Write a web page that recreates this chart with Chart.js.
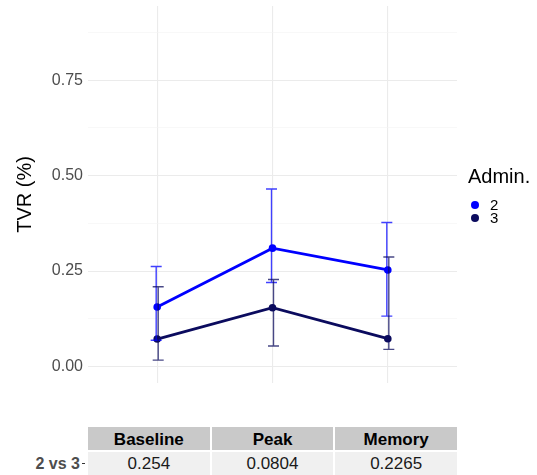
<!DOCTYPE html>
<html>
<head>
<meta charset="utf-8">
<script src="https://cdn.jsdelivr.net/npm/chart.js@4.4.0/dist/chart.umd.min.js"></script>
<style>
  body { margin: 0; background: #fff; font-family: "Liberation Sans", Arial, sans-serif; }
  #wrap { position: relative; width: 537px; height: 475px; overflow: hidden; }
  #plot { position: absolute; left: 0; top: 0; width: 537px; height: 395px; }
  #legend { position: absolute; left: 468px; top: 166px; }
  #legend .title { font-size: 20px; line-height: 20px; color: #000; margin-bottom: 13px; }
  #legend .item { position: relative; height: 12.5px; font-size: 15px; line-height: 12px; color: #000; }
  #legend .dot { position: absolute; left: 2.5px; top: 2px; width: 8px; height: 8px; border-radius: 50%; }
  #legend .lbl { position: absolute; left: 22px; top: 0; }
  #table { position: absolute; left: 88px; top: 427px; width: 369px; display: grid;
           grid-template-columns: repeat(3, 1fr); column-gap: 2px; row-gap: 1.5px; }
  #table .head { height: 23px; line-height: 25px; background: #c9c9c9; font-weight: bold;
                 font-size: 17px; text-align: center; color: #000; }
  #table .cell { height: 24px; line-height: 24px; background: #f0f0f0; font-size: 17px;
                 text-align: center; color: #1a1a1a; }
  #rowlab { position: absolute; right: 457px; top: 451.5px; height: 24px; line-height: 24px;
            font-size: 16px; font-weight: bold; color: #4d4d4d; }
  #rowtick { position: absolute; left: 82px; top: 463px; width: 3px; height: 1px; background: #333; }
</style>
</head>
<body>
<div id="wrap">
  <div id="plot"><canvas id="myChart"></canvas></div>
  <div id="legend"></div>
  <div id="rowlab"></div>
  <div id="rowtick"></div>
  <div id="table"></div>
</div>
<script>
// timepoints along the x axis
const phases = ['Baseline', 'Peak', 'Memory'];

// administration groups
const groups = ['2', '3'];

// mean TVR per phase, with lower / upper error bar ends
const mean2 = [0.156, 0.310, 0.253];
const low2 = [0.069, 0.220, 0.132];
const high2 = [0.262, 0.465, 0.377];

const mean3 = [0.072, 0.154, 0.073];
const low3 = [0.017, 0.054, 0.045];
const high3 = [0.209, 0.228, 0.287];

// y axis ticks: labelled majors and unlabelled minors
const yMajor = [0, 0.25, 0.5, 0.75];
const yTicks = [0, 0.125, 0.25, 0.375, 0.5, 0.625, 0.75, 0.875];

// comparison table under the plot
const compareLabel = '2 vs 3';
const compareValues = ['0.254', '0.0804', '0.2265'];

const colors = ['#0000ff', '#0b0b5e'];
const barColors = ['rgba(0, 0, 255, 0.75)', 'rgba(11, 11, 94, 0.75)'];

function toPoints(arr) {
    return arr.map((v, i) => ({ x: i + 1, y: v }));
}

// Error bars drawn on top of the lines
const errorBars = {
    id: 'errorBars',
    afterDatasetsDraw(chart) {
        const ctx = chart.ctx;
        const xs = chart.scales.x;
        const ys = chart.scales.y;
        chart.data.datasets.forEach(function(ds, di) {
            const nudge = di === 0 ? -1 : 1;
            ctx.save();
            ctx.strokeStyle = barColors[di];
            ctx.lineWidth = 1.4;
            ds.errLow.forEach(function(lo, i) {
                const x = xs.getPixelForValue(i + 1) + nudge;
                const yLo = ys.getPixelForValue(lo);
                const yHi = ys.getPixelForValue(ds.errHigh[i]);
                ctx.beginPath();
                ctx.moveTo(x, yLo);
                ctx.lineTo(x, yHi);
                ctx.moveTo(x - 5.5, yLo);
                ctx.lineTo(x + 5.5, yLo);
                ctx.moveTo(x - 5.5, yHi);
                ctx.lineTo(x + 5.5, yHi);
                ctx.stroke();
            });
            ctx.restore();
        });
    }
};

const ctx = document.getElementById('myChart').getContext('2d');
const myChart = new Chart(ctx, {
    type: 'line',
    data: {
        datasets: [{
            label: groups[0],
            data: toPoints(mean2),
            errLow: low2,
            errHigh: high2,
            borderColor: colors[0],
            backgroundColor: colors[0],
            borderWidth: 2.8,
            pointRadius: 3.8,
            pointBorderWidth: 0
        }, {
            label: groups[1],
            data: toPoints(mean3),
            errLow: low3,
            errHigh: high3,
            borderColor: colors[1],
            backgroundColor: colors[1],
            borderWidth: 2.8,
            pointRadius: 3.8,
            pointBorderWidth: 0
        }]
    },
    options: {
        responsive: true,
        maintainAspectRatio: false,
        animation: false,
        layout: { padding: { left: 0, right: 80, top: 6, bottom: 12 } },
        plugins: {
            legend: { display: false },
            tooltip: { enabled: false }
        },
        scales: {
            x: {
                type: 'linear',
                min: 0.4,
                max: 3.6,
                afterBuildTicks(scale) {
                    scale.ticks = phases.map((p, i) => ({ value: i + 1 }));
                },
                afterFit(scale) {
                    scale.height = 0;
                    scale.paddingLeft = 0;
                    scale.paddingRight = 0;
                },
                ticks: { display: false },
                grid: { color: '#ebebeb', lineWidth: 1.1, drawTicks: false },
                border: { display: false }
            },
            y: {
                type: 'linear',
                min: -0.043,
                max: 0.944,
                afterBuildTicks(scale) {
                    scale.ticks = yTicks.map(v => ({ value: v }));
                },
                afterFit(scale) {
                    scale.width = 88;
                    scale.paddingTop = 0;
                    scale.paddingBottom = 0;
                },
                ticks: {
                    autoSkip: false,
                    padding: 5,
                    color: '#4d4d4d',
                    font: { family: 'Liberation Sans', size: 16 },
                    callback: v => yMajor.includes(v) ? v.toFixed(2) : ''
                },
                grid: {
                    drawTicks: false,
                    color: c => yMajor.includes(c.tick && c.tick.value) ? '#ebebeb' : '#f3f3f3',
                    lineWidth: c => yMajor.includes(c.tick && c.tick.value) ? 1.1 : 0.6
                },
                border: { display: false },
                title: {
                    display: true,
                    text: 'TVR (%)',
                    color: '#000',
                    font: { family: 'Liberation Sans', size: 20 },
                    padding: { top: 13, bottom: 0 }
                }
            }
        }
    },
    plugins: [errorBars]
});

// legend built from the datasets
const legend = document.getElementById('legend');
legend.innerHTML = '<div class="title">Admin.</div>' + myChart.data.datasets.map(ds =>
    '<div class="item"><span class="dot" style="background:' + ds.borderColor + '"></span>' +
    '<span class="lbl">' + ds.label + '</span></div>').join('');

// comparison table
const table = document.getElementById('table');
table.innerHTML = phases.map(p => '<div class="head">' + p + '</div>').join('') +
    compareValues.map(v => '<div class="cell">' + v + '</div>').join('');
document.getElementById('rowlab').textContent = compareLabel;
</script>
</body>
</html>
